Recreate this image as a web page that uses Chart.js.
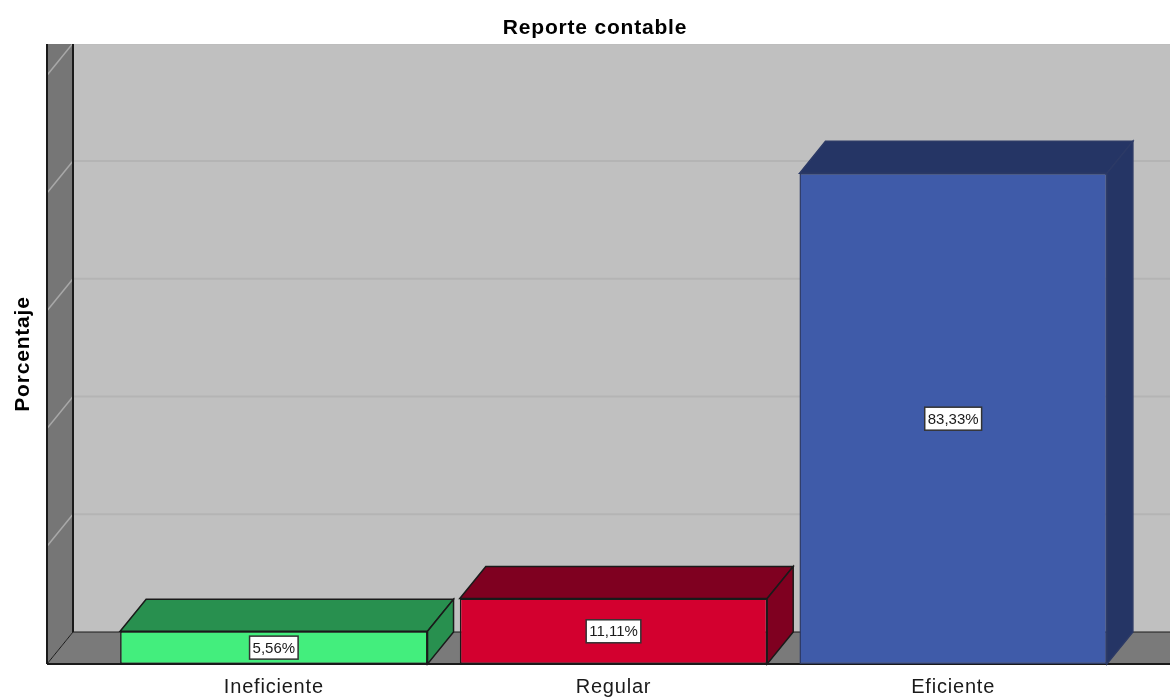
<!DOCTYPE html>
<html>
<head>
<meta charset="utf-8">
<title>Reporte contable</title>
<script src="https://cdn.jsdelivr.net/npm/chart.js@4/dist/chart.umd.min.js"></script>
<style>
  html, body { margin: 0; padding: 0; background: #fff; overflow: hidden; }
  #wrap { width: 1170px; height: 697px; overflow: hidden; }
  canvas { display: block; }
</style>
</head>
<body>
<div id="wrap"><canvas id="chart" width="1190" height="697"></canvas></div>
<script>
var categories = ['Ineficiente', 'Regular', 'Eficiente'];
var percentages = [5.56, 11.11, 83.33];
var percentLabels = ['5,56%', '11,11%', '83,33%'];
var gridTicks = [0, 20, 40, 60, 80, 100];

var frontColors = ['#43EE7D', '#D3002F', '#3F5BA9'];
var topColors = ['#28904F', '#7F0020', '#253565'];
var edgeColors = ['#1A1A1A', '#1A1A1A', '#2C3A66'];

var DEPTH_X = 26, DEPTH_Y = 32;

function poly(ctx, pts, fill, stroke, lw) {
  ctx.beginPath();
  pts.forEach(function(p, i) {
    if (i === 0) ctx.moveTo(p[0], p[1]); else ctx.lineTo(p[0], p[1]);
  });
  ctx.closePath();
  if (fill) { ctx.fillStyle = fill; ctx.fill(); }
  if (stroke) { ctx.strokeStyle = stroke; ctx.lineWidth = lw || 1; ctx.stroke(); }
}

function line(ctx, x1, y1, x2, y2, color, lw) {
  ctx.beginPath();
  ctx.moveTo(x1, y1);
  ctx.lineTo(x2, y2);
  ctx.strokeStyle = color;
  ctx.lineWidth = lw;
  ctx.stroke();
}

// back wall, side wall, floor and the 3D faces of the bars
var box3d = {
  id: 'box3d',
  beforeDraw: function(chart) {
    chart.ctx.letterSpacing = '0.8px';
  },
  beforeDatasetsDraw: function(chart) {
    var ctx = chart.ctx, area = chart.chartArea, y = chart.scales.y;
    var wallL = 47, wallR = wallL + DEPTH_X, right = chart.width;
    var top = area.top, bottom = area.bottom, floorY = bottom - DEPTH_Y;

    ctx.save();
    ctx.beginPath();
    ctx.rect(0, top, chart.width, chart.height - top);
    ctx.clip();

    ctx.fillStyle = '#C0C0C0';
    ctx.fillRect(wallR, top, right - wallR, floorY - top);

    poly(ctx, [[wallL, top], [wallR, top], [wallR, floorY], [wallL, bottom]], '#767676');
    poly(ctx, [[wallL, bottom], [wallR, floorY], [right, floorY], [right, bottom]], '#7A7A7A');

    gridTicks.forEach(function(t) {
      if (t === 0) return;
      var py = y.getPixelForValue(t);
      line(ctx, wallL, py, wallR, py - DEPTH_Y, '#A8A8A8', 1.5);
      line(ctx, wallR, py - DEPTH_Y, right, py - DEPTH_Y, '#B4B4B4', 2);
    });

    line(ctx, wallL, top, wallL, bottom, '#1A1A1A', 2);
    line(ctx, wallR, top, wallR, floorY, '#1A1A1A', 2);
    line(ctx, wallL, bottom, wallR, floorY, '#1A1A1A', 1);
    line(ctx, wallR, floorY, right, floorY, '#1A1A1A', 1);
    line(ctx, wallL, bottom, right, bottom, '#1A1A1A', 2);
    ctx.restore();

    chart.getDatasetMeta(0).data.forEach(function(bar, i) {
      var l = bar.x - bar.width / 2, r = bar.x + bar.width / 2;
      var t = bar.y, b = bar.base;
      poly(ctx, [[l, t], [l + DEPTH_X, t - DEPTH_Y], [r + DEPTH_X, t - DEPTH_Y], [r, t]],
        topColors[i], edgeColors[i], 1.5);
      poly(ctx, [[r, t], [r + DEPTH_X, t - DEPTH_Y], [r + DEPTH_X, b - DEPTH_Y], [r, b]],
        topColors[i], edgeColors[i], 1.5);
    });
  },
  afterDatasetsDraw: function(chart) {
    var ctx = chart.ctx;
    ctx.save();
    ctx.letterSpacing = '0px';
    ctx.font = '15px "Liberation Sans", Arial, sans-serif';
    ctx.textAlign = 'center';
    ctx.textBaseline = 'middle';
    chart.getDatasetMeta(0).data.forEach(function(bar, i) {
      var cy = (bar.y + bar.base) / 2;
      var w = ctx.measureText(percentLabels[i]).width + 6;
      var h = 23;
      ctx.fillStyle = '#fff';
      ctx.fillRect(bar.x - w / 2, cy - h / 2, w, h);
      ctx.strokeStyle = '#333';
      ctx.lineWidth = 1.5;
      ctx.strokeRect(bar.x - w / 2, cy - h / 2, w, h);
      ctx.fillStyle = '#1A1A1A';
      ctx.fillText(percentLabels[i], bar.x, cy + 1);
    });
    ctx.restore();
  }
};

new Chart(document.getElementById('chart').getContext('2d'), {
  type: 'bar',
  data: {
    labels: categories,
    datasets: [{
      data: percentages,
      backgroundColor: frontColors,
      borderColor: edgeColors,
      borderWidth: 1.5,
      borderSkipped: false,
      categoryPercentage: 1,
      barPercentage: 0.905,
      clip: false
    }]
  },
  plugins: [box3d],
  options: {
    responsive: false,
    animation: false,
    devicePixelRatio: 1,
    plugins: {
      legend: { display: false },
      tooltip: { enabled: false },
      title: {
        display: true,
        text: 'Reporte contable',
        color: '#000',
        font: { family: '"Liberation Sans", Arial, sans-serif', size: 21, weight: 'bold', lineHeight: 1.2 },
        padding: { top: 15.4, bottom: 3.4 }
      }
    },
    scales: {
      x: {
        grid: { display: false },
        border: { display: false },
        ticks: {
          color: '#1A1A1A',
          padding: 3,
          maxRotation: 0,
          font: { family: '"Liberation Sans", Arial, sans-serif', size: 20 }
        },
        afterFit: function(scale) { scale.height = 33; }
      },
      y: {
        min: 0,
        max: 105.3,
        grid: { display: false },
        border: { display: false },
        ticks: { display: false, stepSize: 20 },
        title: {
          display: true,
          text: 'Porcentaje',
          color: '#000',
          font: { family: '"Liberation Sans", Arial, sans-serif', size: 21, weight: 'bold', lineHeight: 1.2 },
          padding: { top: 11, bottom: 0 }
        },
        afterFit: function(scale) { scale.width = 104; }
      },
      // empty axis, only keeps the plot clear of the right edge
      spacer: {
        position: 'right',
        grid: { display: false },
        border: { display: false },
        ticks: { display: false },
        afterFit: function(scale) { scale.width = 67; }
      }
    }
  }
});
</script>
</body>
</html>
